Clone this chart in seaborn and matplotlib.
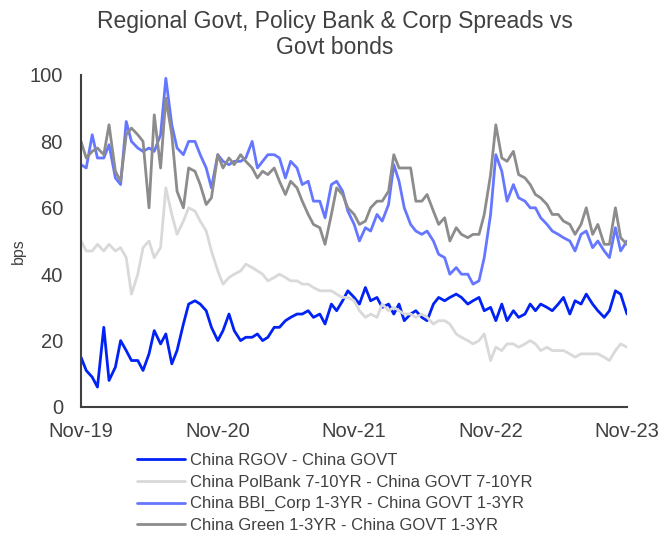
import numpy as np
import pandas as pd
import matplotlib
matplotlib.use("Agg")
import matplotlib.pyplot as plt
import matplotlib.dates as mdates
import seaborn as sns

# semi-monthly readings, Nov-19 .. Nov-23 (1st and 15th of each month)
dates = pd.date_range("2019-11-01", "2023-11-01", freq="SMS")

rgov = [15, 11, 9, 6, 24, 8, 12, 20, 17, 14, 14, 11, 16, 23, 19, 22,
        13, 17, 25, 31, 32, 31, 29, 24, 20, 23, 28, 23, 20, 21, 21, 22,
        20, 21, 24, 24, 26, 27, 28, 28, 29, 27, 28, 25, 31, 29, 32, 35,
        33, 31, 36, 32, 33, 30, 31, 28, 31, 26, 28, 29, 27, 26, 31, 33,
        32, 33, 34, 33, 31, 32, 33, 29, 30, 26, 31, 26, 29, 27, 28, 31,
        29, 31, 30, 29, 31, 33, 28, 32, 31, 34, 31, 29, 27, 29, 35, 34, 28]

polbank = [50, 47, 47, 49, 47, 49, 47, 48, 45, 34, 40, 48, 50, 45, 48, 66,
           58, 52, 56, 60, 59, 56, 53, 47, 41, 37, 39, 40, 41, 43, 42, 41,
           40, 38, 39, 40, 39, 38, 38, 37, 37, 36, 35, 35, 35, 34, 33, 33,
           32, 29, 27, 28, 27, 31, 29, 30, 29, 28, 28, 27, 28, 27, 25, 26,
           26, 25, 22, 21, 20, 19, 20, 22, 14, 18, 17, 19, 19, 18, 19, 20,
           19, 17, 18, 17, 17, 17, 16, 15, 16, 16, 16, 16, 15, 14, 17, 19, 18]

bbi_corp = [73, 72, 82, 75, 75, 79, 69, 67, 86, 80, 78, 77, 78, 77, 82, 99,
            85, 78, 76, 80, 80, 76, 72, 66, 76, 74, 73, 74, 74, 75, 80, 72,
            74, 76, 76, 75, 69, 74, 72, 67, 68, 62, 62, 57, 67, 68, 65, 59,
            55, 50, 54, 53, 58, 56, 61, 73, 68, 60, 55, 53, 52, 53, 50, 46,
            45, 40, 42, 40, 40, 37, 38, 45, 58, 76, 71, 62, 67, 63, 62, 60,
            60, 57, 55, 53, 52, 51, 50, 47, 52, 53, 48, 50, 47, 45, 54, 47, 50]

green = [80, 75, 77, 78, 76, 85, 71, 68, 82, 84, 82, 80, 60, 88, 72, 93,
         82, 65, 60, 72, 71, 67, 61, 63, 76, 72, 75, 73, 76, 74, 72, 69,
         71, 70, 72, 68, 64, 68, 66, 62, 58, 55, 54, 49, 58, 66, 64, 60,
         58, 55, 56, 60, 62, 62, 65, 76, 72, 72, 72, 62, 62, 64, 59, 55,
         57, 50, 54, 52, 51, 52, 52, 58, 70, 85, 75, 74, 77, 70, 69, 67,
         64, 63, 61, 58, 58, 56, 55, 52, 55, 60, 52, 55, 49, 49, 60, 51, 49]

labels = ["China RGOV - China GOVT",
          "China PolBank 7-10YR - China GOVT 7-10YR",
          "China BBI_Corp 1-3YR - China GOVT 1-3YR",
          "China Green 1-3YR - China GOVT 1-3YR"]
colors = ["#0022F5", "#D9D9D9", "#6677FF", "#8C8C8C"]

df = pd.concat([
    pd.DataFrame({"date": dates, "bps": vals, "series": lab})
    for vals, lab in zip([rgov, polbank, bbi_corp, green], labels)
], ignore_index=True)

sns.set_theme(style="white")
plt.rcParams["font.family"] = ["Liberation Sans", "DejaVu Sans"]
txt = "#404040"

fig = plt.figure(figsize=(6.63, 5.33), dpi=100)
ax = fig.add_axes([81 / 663, 1 - 407 / 533, 546 / 663, 332 / 533])

sns.lineplot(data=df, x="date", y="bps", hue="series", hue_order=labels,
             palette=dict(zip(labels, colors)), linewidth=2.0, ax=ax)

ax.set_xlim(pd.Timestamp("2019-11-01"), pd.Timestamp("2023-11-01"))
ax.set_ylim(0, 100)
ax.set_yticks(range(0, 101, 20))
ax.xaxis.set_major_locator(mdates.MonthLocator(bymonth=11, bymonthday=1))
ax.xaxis.set_major_formatter(mdates.DateFormatter("%b-%y"))
ax.tick_params(axis="both", length=0, labelsize=14.5, colors=txt)
ax.tick_params(axis="y", pad=13)
ax.tick_params(axis="x", pad=11)
ax.set_xlabel("")
ax.set_ylabel("bps", fontsize=11.5, color=txt)
ax.yaxis.set_label_coords(-0.1, 0.47)

sns.despine(ax=ax)
for s in ["left", "bottom"]:
    ax.spines[s].set_color("#404040")
    ax.spines[s].set_linewidth(1.5)

fig.suptitle("Regional Govt, Policy Bank & Corp Spreads vs\nGovt bonds",
             x=0.505, y=0.982, fontsize=16.5, color=txt, linespacing=1.2)

handles, labs = ax.get_legend_handles_labels()
ax.legend(handles, labs, loc="upper left", bbox_to_anchor=(137 / 663, 1 - 453 / 533),
          bbox_transform=fig.transFigure, frameon=False, fontsize=12,
          handlelength=2.85, handletextpad=0.3, labelspacing=0.4,
          labelcolor=txt, borderaxespad=0, borderpad=0)

fig.savefig("out.png", dpi=100)
